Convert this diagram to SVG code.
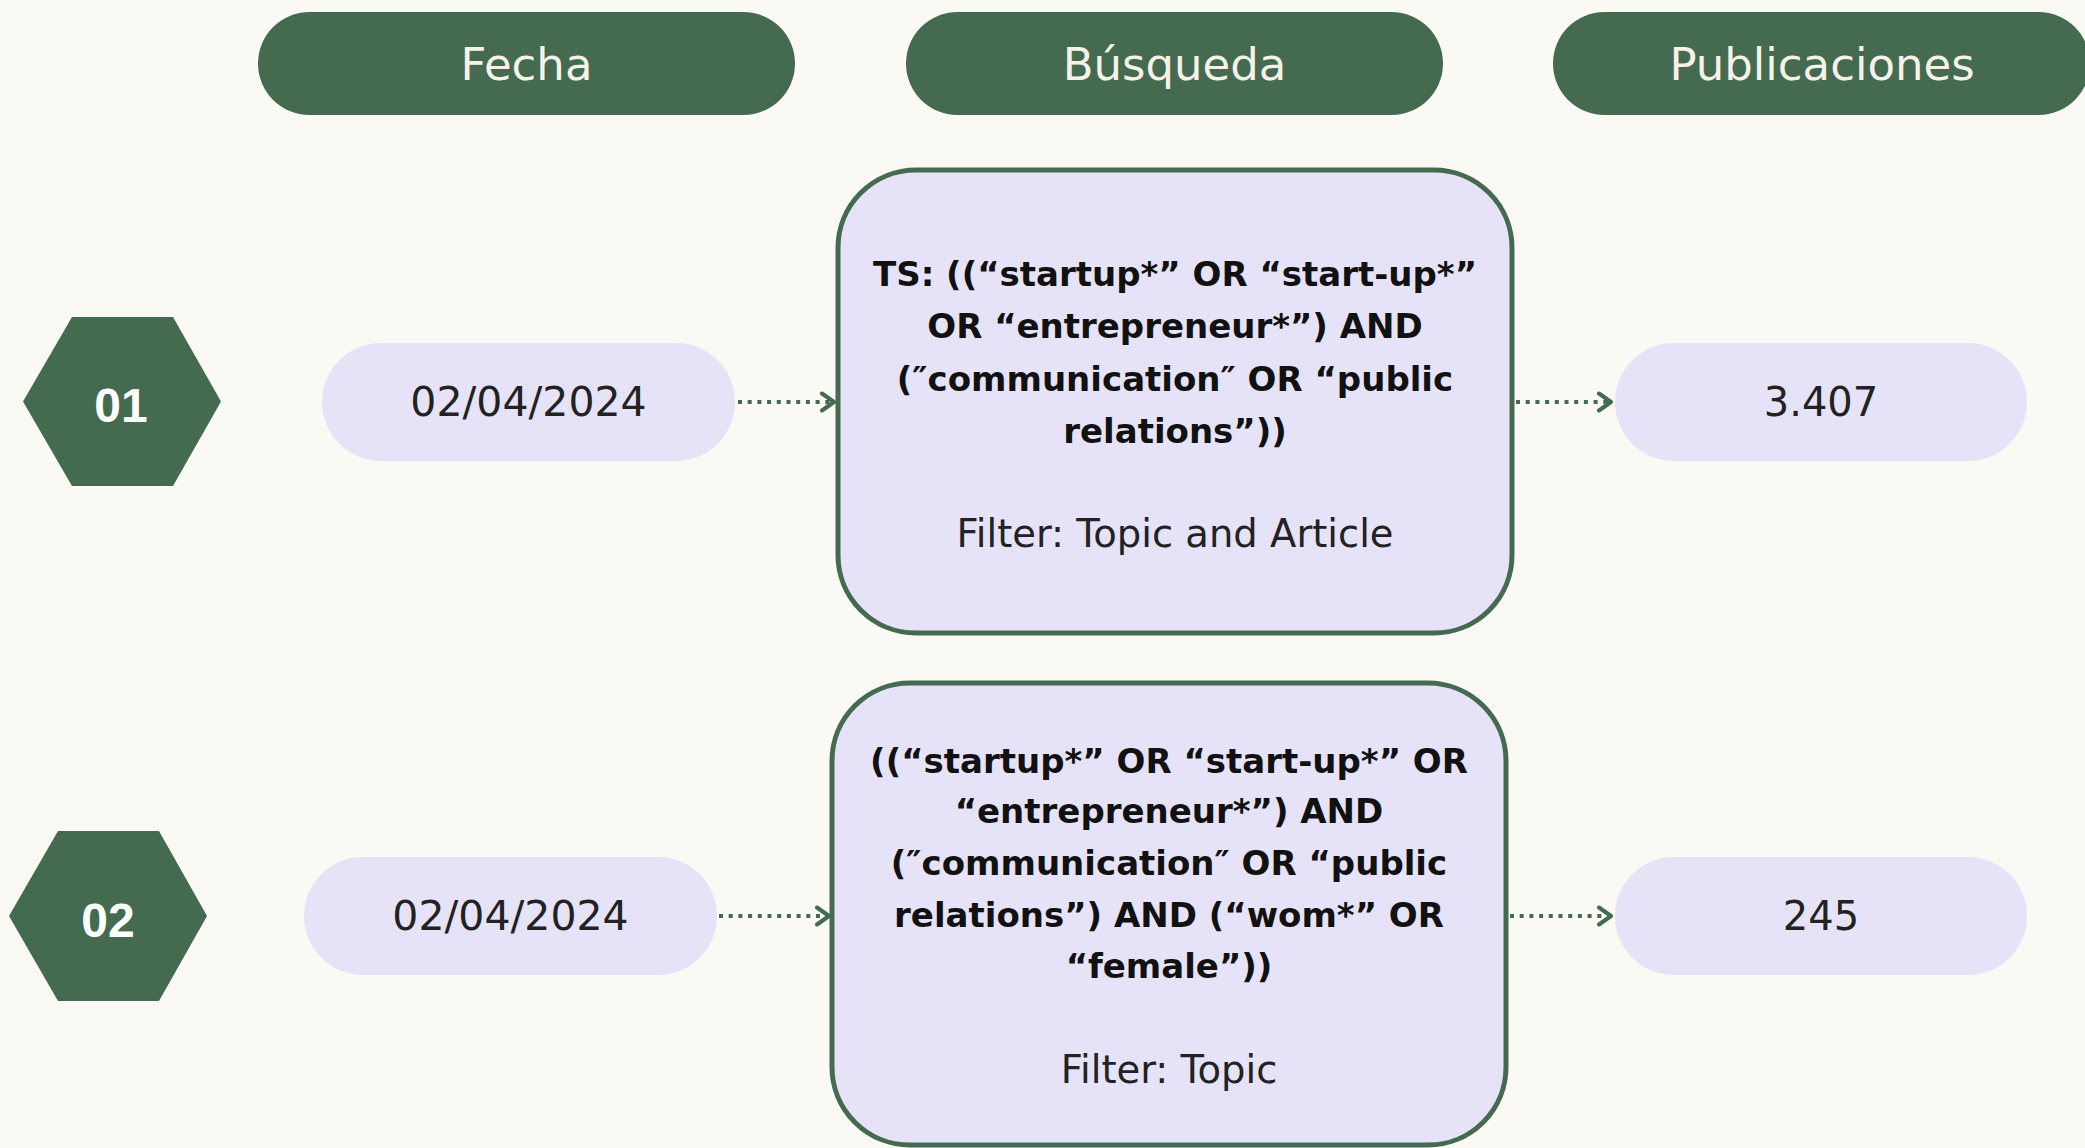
<svg xmlns="http://www.w3.org/2000/svg" width="2085" height="1148" viewBox="0 0 2085 1148">
<defs>
<style>
.hdr{fill:#446A4F}
.hdrt{fill:#F5F2EA;font-family:"DejaVu Sans",sans-serif;font-size:45px;text-anchor:middle}
.pill{fill:#E6E3F8}
.pillt{fill:#222222;font-family:"DejaVu Sans",sans-serif;font-size:40px;text-anchor:middle}
.date{font-size:41px}
.hex{fill:#446A4F}
.hext{fill:#FFFFFF;font-family:"Liberation Sans",Arial,sans-serif;font-weight:bold;font-size:48px;text-anchor:middle}
.box{fill:#E6E3F8;stroke:#446A4F;stroke-width:5}
.bt{fill:#111111;font-family:"DejaVu Sans",sans-serif;font-weight:bold;font-size:34px;text-anchor:middle}
.ft{fill:#222222;font-family:"DejaVu Sans",sans-serif;font-size:38.5px;text-anchor:middle}
.con{fill:none;stroke:#446A4F;stroke-width:4;stroke-dasharray:4 5.7}
</style>
<marker id="chev" markerUnits="userSpaceOnUse" markerWidth="20" markerHeight="24" refX="14" refY="10" orient="auto" viewBox="0 0 20 20">
<path d="M2,1.5 L14,10 L2,18.5" fill="none" stroke="#446A4F" stroke-width="4" stroke-linecap="round" stroke-linejoin="round"/>
</marker>
</defs>
<rect x="0" y="0" width="2085" height="1148" fill="#FAF9F4"/>

<g id="header-fecha">
<rect class="hdr" x="258" y="12" width="537" height="103" rx="51.5"/>
<text class="hdrt" x="526.5" y="80">Fecha</text>
</g>
<g id="header-busqueda">
<rect class="hdr" x="906" y="12" width="537" height="103" rx="51.5"/>
<text class="hdrt" x="1174.5" y="80">Búsqueda</text>
</g>
<g id="header-publicaciones">
<rect class="hdr" x="1553" y="12" width="537" height="103" rx="51.5"/>
<text class="hdrt" x="1822" y="80">Publicaciones</text>
</g>

<g id="hex-01">
<polygon class="hex" points="72,317 173,317 221,401.5 173,486 72,486 23,401.5"/>
<text class="hext" x="121" y="422">01</text>
</g>
<g id="hex-02">
<polygon class="hex" points="58,831 159,831 207,916 159,1001 58,1001 9,916"/>
<text class="hext" x="108" y="937">02</text>
</g>

<g id="date-01">
<rect class="pill" x="322" y="343" width="413" height="118" rx="59"/>
<text class="pillt date" x="528.5" y="416">02/04/2024</text>
</g>
<g id="date-02">
<rect class="pill" x="304" y="857" width="413" height="118" rx="59"/>
<text class="pillt date" x="510.5" y="930">02/04/2024</text>
</g>

<g id="search-01">
<rect class="box" x="838" y="170" width="674" height="463" rx="78"/>
<text class="bt" x="1175" y="286">TS: ((“startup*” OR “start-up*”</text>
<text class="bt" x="1175" y="338">OR “entrepreneur*”) AND</text>
<text class="bt" x="1175" y="391">(″communication″ OR “public</text>
<text class="bt" x="1175" y="443">relations”))</text>
<text class="ft" x="1175" y="547">Filter: Topic and Article</text>
</g>
<g id="search-02">
<rect class="box" x="832" y="683" width="674" height="462" rx="78"/>
<text class="bt" x="1169" y="773">((“startup*” OR “start-up*” OR</text>
<text class="bt" x="1169" y="823">“entrepreneur*”) AND</text>
<text class="bt" x="1169" y="875">(″communication″ OR “public</text>
<text class="bt" x="1169" y="927">relations”) AND (“wom*” OR</text>
<text class="bt" x="1169" y="978">“female”))</text>
<text class="ft" x="1169" y="1083">Filter: Topic</text>
</g>

<g id="result-01">
<rect class="pill" x="1615" y="343" width="412" height="118" rx="59"/>
<text class="pillt" x="1821" y="416">3.407</text>
</g>
<g id="result-02">
<rect class="pill" x="1615" y="857" width="412" height="118" rx="59"/>
<text class="pillt" x="1821" y="930">245</text>
</g>

<g id="connectors">
<path class="con" d="M738,402 H834" marker-end="url(#chev)"/>
<path class="con" d="M1516,402 H1611" marker-end="url(#chev)"/>
<path class="con" d="M719,916 H829" marker-end="url(#chev)"/>
<path class="con" d="M1510,916 H1611" marker-end="url(#chev)"/>
</g>
</svg>
